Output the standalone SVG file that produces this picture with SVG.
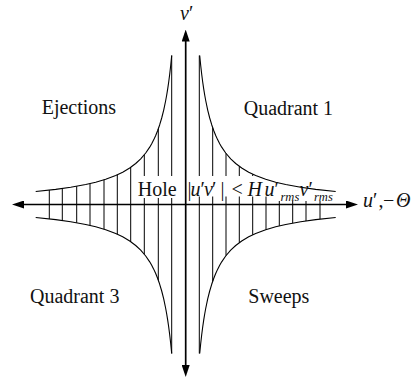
<svg xmlns="http://www.w3.org/2000/svg" xmlns:xlink="http://www.w3.org/1999/xlink" width="414" height="380" viewBox="0 0 414 380">
<style>
.hatch{stroke:#000;stroke-width:1;fill:none}
.curve{stroke:#000;stroke-width:1.1;fill:none;stroke-linejoin:round}
.axis{stroke:#000;stroke-width:1.7;fill:none}
.lbl{font-family:"Liberation Serif","Times New Roman",serif;font-size:20px;fill:#111}
.it{font-style:italic}
.sub{font-size:12.5px;font-style:italic}
.mask{fill:#fff}
</style>
<defs>
<marker id="ah" viewBox="0 0 12 8" refX="8" refY="4" markerWidth="12" markerHeight="8" orient="auto-start-reverse" markerUnits="userSpaceOnUse">
<path d="M0,0 L12,4 L0,8 Z" fill="#000"/>
</marker>
<path id="q" d="M14,-149 L15,-139 L16,-130.25 L17,-122.5 L18,-115.67 L19,-109.5 L20,-104 L22,-94.45 L24,-86.5 L26,-79.8 L28,-74 L30,-69 L32,-64.63 L34,-60.8 L36,-57.33 L40,-51.5 L45,-45.67 L50,-41 L56,-36.5 L63,-32.33 L70,-29 L80,-25.25 L90,-22.33 L100,-20 L115,-17.26 L130,-15.15 L150,-13"/>
</defs>
<g id="hatching">
<path class="hatch" d="M171.7,55.5V353.5 M158.3,128.9V280.1 M144.3,154.8V254.2 M130.7,167.3V241.7 M117.3,174.8V234.2 M104,179.8V229.2 M90,183.6V225.4 M76.7,186.2V222.8 M62.3,188.5V220.5 M49.3,190.1V218.9 M199.3,55.5V353.5 M212.7,127.7V281.3 M226,153.4V255.6 M239.3,166.3V242.7 M252.7,174.2V234.8 M266,179.3V229.7 M279.3,183.1V225.9 M292.7,185.9V223.1 M306,188V221 M320,189.9V219.1"/>
</g>
<g id="masks">
<rect class="mask" x="134" y="176" width="50" height="22"/>
<rect class="mask" x="188" y="176" width="89" height="20.5"/>
<rect class="mask" x="276" y="176" width="58" height="25"/>
</g>
<g id="boundary">
<use xlink:href="#q" class="curve" transform="translate(185.7,204.5)"/>
<use xlink:href="#q" class="curve" transform="translate(185.7,204.5) scale(-1,1)"/>
<use xlink:href="#q" class="curve" transform="translate(185.7,204.5) scale(1,-1)"/>
<use xlink:href="#q" class="curve" transform="translate(185.7,204.5) scale(-1,-1)"/>
</g>
<g id="connectors">
<line class="axis" x1="16" y1="204.5" x2="354" y2="204.5" marker-start="url(#ah)" marker-end="url(#ah)"/>
<line class="axis" x1="185.7" y1="33.5" x2="185.7" y2="373" marker-start="url(#ah)" marker-end="url(#ah)"/>
</g>
<g id="ejections"><text class="lbl" x="41.7" y="114">Ejections</text></g>
<g id="quadrant1"><text class="lbl" x="243.7" y="114.5">Quadrant 1</text></g>
<g id="quadrant3"><text class="lbl" x="30" y="303">Quadrant 3</text></g>
<g id="sweeps"><text class="lbl" x="248.3" y="303">Sweeps</text></g>
<g id="hole"><text class="lbl" x="137.7" y="196">Hole</text></g>
<g id="condition">
<text class="lbl" y="196"><tspan x="187.5" y="196">|</tspan><tspan class="it" x="190.5" y="196">u</tspan><tspan x="200.5" y="196">′</tspan><tspan class="it" x="204" y="196">v</tspan><tspan x="212" y="196">′</tspan><tspan x="220.5" y="196">|</tspan><tspan x="231.5" y="196">&lt;</tspan><tspan class="it" x="247.5" y="196">H</tspan><tspan class="it" x="264.5" y="196">u</tspan><tspan x="274.5" y="196">′</tspan><tspan class="sub" x="280.5" y="201">rms</tspan><tspan class="it" x="299.5" y="196">v</tspan><tspan x="308.5" y="196">′</tspan><tspan class="sub" x="314" y="201">rms</tspan></text>
</g>
<g id="v-label"><text class="lbl it" x="180" y="20">v<tspan font-style="normal">′</tspan></text></g>
<g id="u-label"><text class="lbl" y="207"><tspan class="it" x="363">u</tspan><tspan x="373">′</tspan><tspan x="378.5">,</tspan><tspan x="383">−</tspan><tspan class="it" x="396">Θ</tspan></text></g>
</svg>
